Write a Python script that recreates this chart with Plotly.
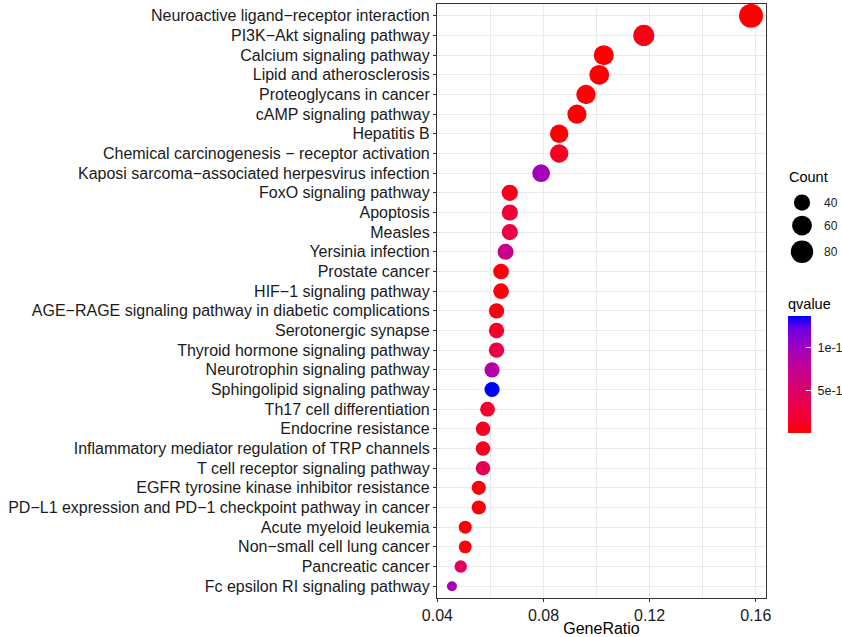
import numpy as np
import plotly.graph_objects as go

# ---------------- data ----------------
pathways = [
    "Neuroactive ligand\u2212receptor interaction",
    "PI3K\u2212Akt signaling pathway",
    "Calcium signaling pathway",
    "Lipid and atherosclerosis",
    "Proteoglycans in cancer",
    "cAMP signaling pathway",
    "Hepatitis B",
    "Chemical carcinogenesis \u2212 receptor activation",
    "Kaposi sarcoma\u2212associated herpesvirus infection",
    "FoxO signaling pathway",
    "Apoptosis",
    "Measles",
    "Yersinia infection",
    "Prostate cancer",
    "HIF\u22121 signaling pathway",
    "AGE\u2212RAGE signaling pathway in diabetic complications",
    "Serotonergic synapse",
    "Thyroid hormone signaling pathway",
    "Neurotrophin signaling pathway",
    "Sphingolipid signaling pathway",
    "Th17 cell differentiation",
    "Endocrine resistance",
    "Inflammatory mediator regulation of TRP channels",
    "T cell receptor signaling pathway",
    "EGFR tyrosine kinase inhibitor resistance",
    "PD\u2212L1 expression and PD\u22121 checkpoint pathway in cancer",
    "Acute myeloid leukemia",
    "Non\u2212small cell lung cancer",
    "Pancreatic cancer",
    "Fc epsilon RI signaling pathway",
]
gene_ratio = [0.1582, 0.1178, 0.1027, 0.1010, 0.0960, 0.0926, 0.0859, 0.0859,
              0.0791, 0.0673, 0.0673, 0.0673, 0.0657, 0.0640, 0.0640, 0.0623,
              0.0623, 0.0623, 0.0606, 0.0606, 0.0589, 0.0572, 0.0572, 0.0572,
              0.0556, 0.0556, 0.0505, 0.0505, 0.0488, 0.0455]
counts = [94, 70, 61, 60, 57, 55, 51, 51, 47, 40, 40, 40, 39, 38, 38, 37,
          37, 37, 36, 36, 35, 34, 34, 34, 33, 33, 30, 30, 29, 27]
qvalues = [0.05e-11, 0.8e-11, 0.1e-11, 0.1e-11, 0.2e-11, 0.1e-11, 0.05e-11, 1.2e-11,
           9.6e-11, 0.9e-11, 2.2e-11, 3.0e-11, 7.0e-11, 0.3e-11, 0.5e-11, 0.6e-11,
           1.4e-11, 3.0e-11, 8.6e-11, 13.7e-11, 1.8e-11, 1.2e-11, 1.0e-11, 3.8e-11,
           0.4e-11, 0.5e-11, 0.1e-11, 0.2e-11, 4.2e-11, 9.4e-11]
legend_counts = [40, 60, 80]
x_ticks = [0.04, 0.08, 0.12, 0.16]
cbar_ticks = [5e-11, 1e-10]
cbar_ticktext = ["5e-11", "1e-10"]

# ---------------- helpers ----------------
cmin_c, cmax_c = min(counts), max(counts)


def point_size(c):
    return 10 + 14 * np.sqrt((c - cmin_c) / (cmax_c - cmin_c))


def srgb_to_lab(rgb):
    c = np.array(rgb) / 255.0
    c = np.where(c > 0.04045, ((c + 0.055) / 1.055) ** 2.4, c / 12.92)
    M = np.array([[0.4124, 0.3576, 0.1805], [0.2126, 0.7152, 0.0722], [0.0193, 0.1192, 0.9505]])
    xyz = M @ c / np.array([0.95047, 1.0, 1.08883])
    f = np.where(xyz > 0.008856, np.cbrt(xyz), 7.787 * xyz + 16 / 116)
    return np.array([116 * f[1] - 16, 500 * (f[0] - f[1]), 200 * (f[1] - f[2])])


def lab_to_hex(lab):
    L, a, b = lab
    fy = (L + 16) / 116
    fx = fy + a / 500
    fz = fy - b / 200
    f = np.array([fx, fy, fz])
    xyz = np.where(f ** 3 > 0.008856, f ** 3, (f - 16 / 116) / 7.787) * np.array([0.95047, 1.0, 1.08883])
    Mi = np.array([[3.2406, -1.5372, -0.4986], [-0.9689, 1.8758, 0.0415], [0.0557, -0.2040, 1.0570]])
    lin = np.clip(Mi @ xyz, 0, 1)
    s = np.where(lin > 0.0031308, 1.055 * lin ** (1 / 2.4) - 0.055, 12.92 * lin)
    r, g, bb = (np.clip(s, 0, 1) * 255).round().astype(int)
    return f"#{r:02X}{g:02X}{bb:02X}"


lab_lo = srgb_to_lab((255, 0, 0))
lab_hi = srgb_to_lab((0, 0, 255))
colorscale = [[t, lab_to_hex(lab_lo + (lab_hi - lab_lo) * t)] for t in np.linspace(0, 1, 11)]

# ---------------- geometry ----------------
W, H = 842, 637
ML, MT, MB = 437, 4, 39
panel_w = 329
area_w = W - ML
area_h = H - MT - MB


def py(pix):
    """pixel row in the page -> paper y fraction"""
    return (MT + area_h - pix) / area_h


rng = max(gene_ratio) - min(gene_ratio)
x_range = [min(gene_ratio) - 0.05 * rng, max(gene_ratio) + 0.05 * rng]
ypos = list(range(len(pathways)))
minor_ticks = [(a + b) / 2 for a, b in zip(x_ticks[:-1], x_ticks[1:])]

fig = go.Figure()
fig.add_trace(go.Scatter(
    x=gene_ratio, y=ypos, mode="markers",
    marker=dict(size=[point_size(c) for c in counts], color=qvalues,
                colorscale=colorscale, cmin=min(qvalues), cmax=max(qvalues),
                line=dict(width=0), opacity=1,
                colorbar=dict(
                    title=dict(text="qvalue", side="top", font=dict(size=14.5, color="#000")),
                    x=(788 - ML) / area_w, xanchor="left", xpad=0,
                    y=py(364), yanchor="middle", ypad=0,
                    len=138, lenmode="pixels", thickness=23, thicknessmode="pixels",
                    outlinewidth=0, tickvals=cbar_ticks,
                    ticktext=["\u00a0" + t for t in cbar_ticktext],
                    ticks="inside", ticklen=5, tickcolor="white", tickwidth=1,
                    tickfont=dict(size=12.5, color="#1a1a1a"),
                )),
    hoverinfo="skip", showlegend=False, xaxis="x", yaxis="y",
))

# size legend
keys = [point_size(c) for c in legend_counts]
key_h = [d + 5 for d in keys]
centers = []
acc = 24
for kh in key_h:
    centers.append(acc + kh / 2)
    acc += kh
fig.add_trace(go.Scatter(
    x=[15] * len(legend_counts), y=centers, mode="markers",
    marker=dict(size=keys, color="#000000", opacity=1, line=dict(width=0)),
    hoverinfo="skip", showlegend=False, xaxis="x2", yaxis="y2",
))
for c, yc in zip(legend_counts, centers):
    fig.add_annotation(x=35, y=yc, xref="x2", yref="y2", text=str(c), showarrow=False,
                       xanchor="left", yanchor="middle", font=dict(size=12, color="#1a1a1a"))
fig.add_annotation(x=0, y=9, xref="x2", yref="y2", text="Count", showarrow=False,
                   xanchor="left", yanchor="middle", font=dict(size=14.5, color="#000"))

grid = "#EBEBEB"
fig.update_layout(
    template="none",
    width=W, height=H,
    margin=dict(l=ML, r=0, t=MT, b=MB, pad=0, autoexpand=False),
    paper_bgcolor="white", plot_bgcolor="white",
    font=dict(family="Liberation Sans, Arial, sans-serif", color="#000"),
    xaxis=dict(domain=[0, panel_w / area_w], range=x_range, tickvals=x_ticks,
               ticktext=[f"{v:.2f}" for v in x_ticks], automargin=False,
               showgrid=True, gridcolor=grid, gridwidth=1.1, zeroline=False,
               minor=dict(tickvals=minor_ticks, showgrid=True, gridcolor=grid, gridwidth=0.6),
               showline=True, mirror=True, linecolor="#333333", linewidth=1.1,
               ticks="outside", ticklen=3, tickcolor="#333333", tickwidth=1.1,
               tickfont=dict(size=16, color="#1a1a1a"),
               title=dict(text="GeneRatio", font=dict(size=16, color="#000"), standoff=2),
               anchor="y"),
    yaxis=dict(domain=[0, 1], range=[len(pathways) - 0.4, -0.6], tickvals=ypos, ticktext=pathways,
               showgrid=True, gridcolor=grid, gridwidth=1.1, zeroline=False, automargin=False,
               showline=True, mirror=True, linecolor="#333333", linewidth=1.1,
               ticks="outside", ticklen=3, tickcolor="#333333", tickwidth=1.1,
               tickfont=dict(size=16, color="#1a1a1a"), anchor="x"),
    xaxis2=dict(domain=[(787 - ML) / area_w, 1], range=[0, W - 787], visible=False,
                anchor="y2", fixedrange=True),
    yaxis2=dict(domain=[py(268), py(168)], range=[100, 0], visible=False,
                anchor="x2", fixedrange=True),
)

fig.write_html("out.html", config={"displayModeBar": False},
               post_script="document.body.style.margin='0px';document.body.style.overflow='hidden';")
